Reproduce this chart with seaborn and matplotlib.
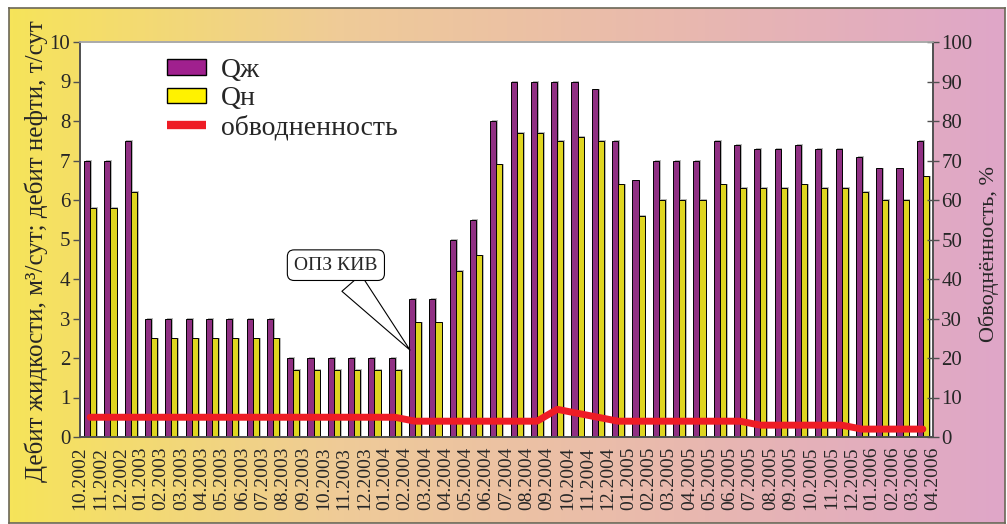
import numpy as np
import pandas as pd
import matplotlib.pyplot as plt
import seaborn as sns
import matplotlib.patheffects as pe
from matplotlib.patches import Patch
from matplotlib.lines import Line2D
from matplotlib.colors import LinearSegmentedColormap

sns.set_theme(style="white")
plt.rcParams['font.family'] = ['Liberation Serif', 'DejaVu Serif']

# месяцы (группы столбцов)
months = ["10.2002", "11.2002", "12.2002",
          "01.2003", "02.2003", "03.2003", "04.2003", "05.2003", "06.2003",
          "07.2003", "08.2003", "09.2003", "10.2003", "11.2003", "12.2003",
          "01.2004", "02.2004", "03.2004", "04.2004", "05.2004", "06.2004",
          "07.2004", "08.2004", "09.2004", "10.2004", "11.2004", "12.2004",
          "01.2005", "02.2005", "03.2005", "04.2005", "05.2005", "06.2005",
          "07.2005", "08.2005", "09.2005", "10.2005", "11.2005", "12.2005",
          "01.2006", "02.2006", "03.2006"]
# подписи на делениях оси X (границы месяцев)
tick_labels = months + ["04.2006"]

# дебит жидкости, м3/сут
q_liquid = [7, 7, 7.5,
            3, 3, 3, 3, 3, 3, 3, 2, 2, 2, 2, 2,
            2, 3.5, 3.5, 5, 5.5, 8, 9, 9, 9, 9, 8.8, 7.5,
            6.5, 7, 7, 7, 7.5, 7.4, 7.3, 7.3, 7.4, 7.3, 7.3, 7.1,
            6.8, 6.8, 7.5]
# дебит нефти, т/сут
q_oil = [5.8, 5.8, 6.2,
         2.5, 2.5, 2.5, 2.5, 2.5, 2.5, 2.5, 1.7, 1.7, 1.7, 1.7, 1.7,
         1.7, 2.9, 2.9, 4.2, 4.6, 6.9, 7.7, 7.7, 7.5, 7.6, 7.5, 6.4,
         5.6, 6.0, 6.0, 6.0, 6.4, 6.3, 6.3, 6.3, 6.4, 6.3, 6.3, 6.2,
         6.0, 6.0, 6.6]
# обводненность, %
water_cut = [5, 5, 5,
             5, 5, 5, 5, 5, 5, 5, 5, 5, 5, 5, 5,
             5, 4, 4, 4, 4, 4, 4, 4, 7, 6, 5, 4,
             4, 4, 4, 4, 4, 4, 3, 3, 3, 3, 3, 2,
             2, 2, 2]

purple = "#A0208E"
yellow = "#FFF200"
red = "#EE1C25"
axis_col = "#505050"

df = pd.DataFrame({"month": months, "Qж": q_liquid, "Qн": q_oil})
df_long = df.melt(id_vars="month", var_name="series", value_name="value")

fig = plt.figure(figsize=(10.07, 5.24), dpi=100)
fig.patch.set_facecolor("white")

# градиентный фон
bg = fig.add_axes([9 / 1007, 1 - 523 / 524, 996 / 1007, 515 / 524], zorder=-1)
cmap = LinearSegmentedColormap.from_list("bg", ["#F6E45A", "#EFCB98", "#E9B9AE", "#DFA6C8"])
bg.imshow(np.linspace(0, 1, 256)[None, :], aspect="auto", cmap=cmap, extent=[0, 1, 0, 1])
bg.set_xticks([])
bg.set_yticks([])
for s in bg.spines.values():
    s.set_color("#6b6757")
    s.set_linewidth(1.2)

ax = fig.add_axes([80 / 1007, 1 - 437 / 524, 853 / 1007, 395 / 524])
ax.set_facecolor("white")

sns.barplot(data=df_long, x="month", y="value", hue="series", palette=[purple, yellow],
            width=0.6, gap=0, edgecolor="black", linewidth=0.7, legend=False, ax=ax)
for bar in ax.patches:
    bar.set_path_effects([pe.SimplePatchShadow(offset=(1.3, 0.5), shadow_rgbFace="#8a8a8a", alpha=0.6),
                          pe.Normal()])

ax.set_ylim(0, 10)
ax.set_xlim(-0.5, 41.5)
ax.set_yticks(range(0, 11))
ax.set_xticks(np.arange(43) - 0.5)
ax.set_xticklabels(tick_labels, rotation=90)
ax.set_xlabel("")
ax.set_ylabel("Дебит жидкости, м³/сут; дебит нефти, т/сут", fontsize=18)
ax.yaxis.set_label_coords(-0.037, 0.47)
ax.tick_params(axis="y", direction="out", length=5, width=1, color=axis_col, labelsize=15, pad=2)
ax.tick_params(axis="x", direction="out", length=5, width=1, color=axis_col, labelsize=14, pad=2)

ax2 = ax.twinx()
sns.lineplot(x=np.arange(len(water_cut)), y=water_cut, color=red, linewidth=5, ax=ax2)
ax2.set_ylim(0, 100)
ax2.set_yticks(range(0, 101, 10))
ax2.set_ylabel("Обводнённость, %", fontsize=16)
ax2.yaxis.set_label_coords(1.053, 0.463)
ax2.tick_params(axis="y", direction="inout", length=8, width=1, color=axis_col, labelsize=15, pad=2)

for a in (ax, ax2):
    a.spines["left"].set_color(axis_col)
    a.spines["bottom"].set_color(axis_col)
    a.spines["right"].set_color(axis_col)
    a.spines["top"].set_color("#aaaaaa")
    for s in a.spines.values():
        s.set_linewidth(1.2)

# выноска
ax.annotate("ОПЗ КИВ", xy=(15.75, 2.2), xytext=(12.1, 4.35), ha="center", va="center",
            fontsize=14,
            bbox=dict(boxstyle="round,pad=0.35", fc="white", ec="black", lw=0.8),
            arrowprops=dict(arrowstyle="wedge,tail_width=1.3", fc="white", ec="black",
                            lw=0.8, shrinkB=0))

handles = [Patch(facecolor=purple, edgecolor="black"),
           Patch(facecolor=yellow, edgecolor="black"),
           Line2D([], [], color=red, linewidth=6, solid_capstyle="butt")]
fig.legend(handles, ["Qж", "Qн", "обводненность"], loc="upper left",
           bbox_to_anchor=(142 / 1007, 1 - 33 / 524), frameon=False, fontsize=20,
           handlelength=1.4, handleheight=0.5, handletextpad=0.55, labelspacing=0.12)

plt.savefig("out.png", dpi=100)
